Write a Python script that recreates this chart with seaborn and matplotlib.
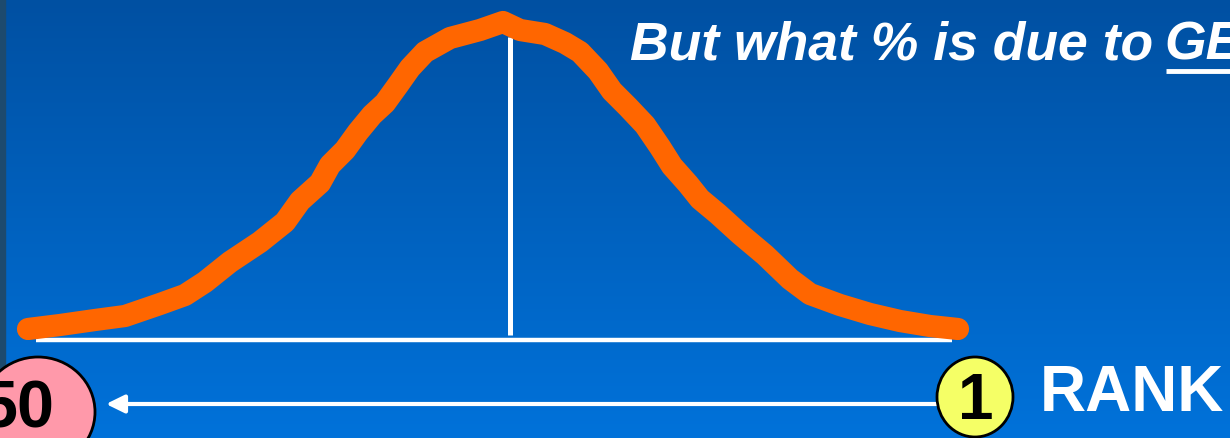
import numpy as np
import matplotlib
matplotlib.use("Agg")
import matplotlib.pyplot as plt
import seaborn as sns
from matplotlib.patches import Ellipse, Rectangle

# ---- data (pixel-space sketch of the hand-drawn bell curve) ----
curve_x = [28, 60, 95, 125, 160, 185, 205, 230, 260, 285, 300, 320, 330, 345, 358,
           372, 385, 398, 410, 425, 450, 480, 503, 520, 545, 565, 580, 598, 612,
           628, 645, 660, 672, 688, 700, 718, 740, 765, 790, 810, 840, 870, 900,
           930, 958]
curve_y = [330, 326, 321, 317, 305, 296, 283, 263, 243, 223, 202, 184, 166, 151, 133,
           116, 104, 86, 69, 53, 39, 31, 23, 31, 35, 44, 53, 72, 92,
           108, 126, 148, 167, 185, 200, 215, 235, 256, 280, 295, 306, 315, 322,
           327, 330]

title_text = "But what % is due to"
title_under = "GE"
left_label = "50"
right_label = "1"
axis_label = "RANK"

W, H = 1230, 439
sns.set_theme(style="white")
plt.rcParams['font.family'] = ['Liberation Sans', 'DejaVu Sans']

fig = plt.figure(figsize=(W / 100, H / 100), dpi=100)
ax = fig.add_axes([0, 0, 1, 1])
ax.set_xlim(0, W)
ax.set_ylim(H, 0)
ax.axis("off")

# background gradient
top = np.array([0, 80, 162]) / 255
bot = np.array([0, 114, 218]) / 255
t = np.linspace(0, 1, 256)[:, None]
grad = top[None, :] * (1 - t) + bot[None, :] * t
ax.imshow(grad[:, None, :], extent=[0, W, H, 0], aspect="auto", zorder=0)
ax.add_patch(Rectangle((0, 0), 5, H, color="#1d4a6e", zorder=1))

# white baseline and vertical mean line
ax.plot([36, 952], [341, 341], color="white", lw=3.2, solid_capstyle="butt", zorder=2)
ax.plot([510, 510], [38, 336], color="white", lw=3.6, solid_capstyle="butt", zorder=2)

# orange curve
sns.lineplot(x=curve_x, y=curve_y, sort=False, estimator=None, color="#FF6600",
             lw=16, ax=ax, solid_capstyle="round", solid_joinstyle="round", zorder=3)

# arrow
ax.annotate("", xy=(106, 405), xytext=(945, 405),
            arrowprops=dict(arrowstyle="-|>,head_length=0.55,head_width=0.27",
                            color="white", lw=3, mutation_scale=20,
                            shrinkA=0, shrinkB=0), zorder=2)

# pink ellipse with 50
ax.add_patch(Ellipse((38, 413), 114, 110, facecolor="#FF99AA", edgecolor="black",
                     lw=2, zorder=4))
ax.text(55, 428, left_label, fontsize=48, fontweight="bold", color="black",
        ha="right", va="baseline", zorder=5)

# yellow circle with 1
ax.add_patch(Ellipse((975, 398), 76, 80, facecolor="#F5FF66", edgecolor="black",
                     lw=2, zorder=4))
ax.text(976, 419, right_label, fontsize=46, fontweight="bold", color="black",
        ha="center", va="baseline", zorder=5)

ax.text(1040, 411, axis_label, fontsize=46, fontweight="bold", color="white",
        ha="left", va="baseline", zorder=5)

# title
ax.text(630, 60, title_text, fontsize=38.5, fontweight="bold",
        fontstyle="italic", color="white", ha="left", va="baseline", zorder=5)
ax.text(1164, 60, title_under, fontsize=38.5, fontweight="bold",
        fontstyle="italic", color="white", ha="left", va="baseline", zorder=5)
ax.plot([1166, 1230], [72, 72], color="white", lw=3.5, solid_capstyle="butt", zorder=5)

fig.savefig("out.png", dpi=100)
